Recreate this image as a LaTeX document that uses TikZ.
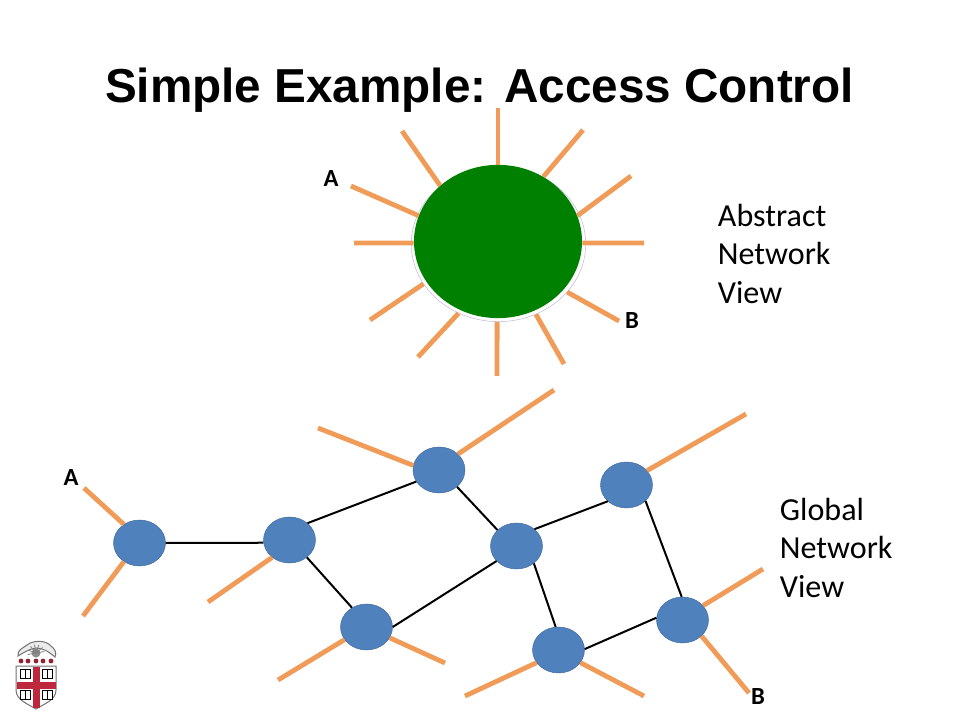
\documentclass[tikz,border=0pt]{standalone}
\usepackage{fontspec}
\setmainfont{Carlito}
\newfontfamily\titlefont{Liberation Sans}
\usetikzlibrary{shapes.geometric}
\definecolor{rayorange}{RGB}{240,156,88}
\definecolor{switchblue}{RGB}{79,129,189}
\definecolor{coregreen}{RGB}{0,128,0}
\definecolor{crestred}{RGB}{190,40,60}
\definecolor{halogray}{RGB}{196,190,214}
\begin{document}
\begin{tikzpicture}[x=0.025cm, y=-0.025cm,
				switch/.style={draw=switchblue!80!black, line width=0.3pt, fill=switchblue, ellipse, minimum width=1.3cm, minimum height=1.15cm, inner sep=0pt},
				ray/.style={draw=rayorange, line width=1.2mm},
				link/.style={draw=black, line width=0.5mm},
				caption/.style={anchor=north west, align=left, font=\fontsize{22.8}{27.4}\selectfont},
				port/.style={font=\fontsize{17.5}{20}\selectfont\bfseries}]
				\useasboundingbox (0, 0) rectangle (960, 720);
				\node[font=\titlefont\fontsize{33.9}{40}\selectfont\bfseries](title) at (479.5, 90) {Simple Example: Access Control};
				
				% abstract view
				\node[ellipse, draw=halogray, line width=0.4pt, fill=white, minimum width=4.36cm, minimum height=3.88cm, inner sep=0pt](halo) at (498.5, 244) {};
				\node[ellipse, fill=coregreen, minimum width=4.2cm, minimum height=3.83cm, inner sep=0pt](core) at (498, 241.5) {};
				\foreach \base/\ang/\x/\y/\n in {core/90/498/108/a, core/55/583/130/b, core/18/631/176/c, core/-1/644/243/d, halo/-35/619/321/e, halo/-62/564/364/f, halo/-91/497/376/g, halo/-120/418/357/h, halo/-152/370/320/i, core/181/354/243/j, core/162/351/186/k, core/136/402/131/l}{
					\coordinate (end\n) at (\x, \y);
					\draw[ray] (\base.\ang) -- (end\n);
				}
				\node[port](portA) at (331, 179) {A};
				\node[port](portB) at (632, 321) {B};
				\node[caption](abstract) at (713, 199) {Abstract\\Network\\View};
				
				% global view
				\coordinate (tipa) at (84, 488);
				\coordinate (tipb) at (83, 616);
				\coordinate (tipc) at (208, 602);
				\coordinate (tipd) at (318, 428);
				\coordinate (tipe) at (554, 390);
				\coordinate (tipf) at (746, 414);
				\coordinate (tipg) at (763, 569);
				\coordinate (tiph) at (749, 693);
				\coordinate (tipi) at (278, 680);
				\coordinate (tipj) at (445, 663);
				\coordinate (tipk) at (465, 696);
				\coordinate (tipl) at (644, 696);
				
				\node[switch](node1) at (139.5, 543) {};
				\node[switch](node2) at (289.5, 540) {};
				\node[switch](node3) at (366.5, 627) {};
				\node[switch](node4) at (439, 470) {};
				\node[switch](node5) at (516.5, 546) {};
				\node[switch](node6) at (626.5, 485) {};
				\node[switch](node7) at (558.5, 650) {};
				\node[switch](node8) at (682.5, 620) {};
				
				\foreach \from/\to in {node1.0/node2.186, node2.43/node4.-153, node2.-45/node3.127, node3.0/node5.-143, node4.-43/node5.140, node5.43/node6.-139, node5.-45/node7.97, node6.-40/node8.92, node7.2/node8.175}
					\draw[link] (\from) -- (\to);
				
				\foreach \from/\to in {node1.130/tipa, node1.-130/tipb, node2.-135/tipc, node4.170/tipd, node4.40/tipe, node6.35/tipf, node8.35/tipg, node8.-40/tiph, node3.-150/tipi, node3.-25/tipj, node7.-150/tipk, node7.-30/tipl}
					\draw[ray] (\from) -- (\to);
				
				\node[port](nodeA) at (71, 478) {A};
				\node[port](nodeB) at (758, 697) {B};
				\node[caption](global) at (775, 493) {Global\\Network\\View};
				
				% crest
				\draw[black!55, line width=0.25mm, fill=black!8] (18, 656) .. controls (17, 650) and (23, 648) .. (27, 645) .. controls (33, 640) and (46, 640) .. (51, 646) .. controls (55, 649) and (57, 653) .. (55, 657) .. controls (50, 653) and (46, 649) .. (36, 648) .. controls (29, 649) and (23, 653) .. (18, 656) -- cycle;
				\fill[black!45] (36, 653) circle (4.5);
				\foreach \a in {170, 200, ..., 370}
					\draw[black!50, line width=0.2mm] (36, 653) -- ++(\a:8.5);
				\foreach \x in {21, 28, 36, 43, 51}
					\fill[crestred!80!black] (\x, 661) circle (2.4);
				\draw[black!55, line width=0.25mm, fill=white] (16, 666) -- (56, 666) -- (56, 690) .. controls (56, 700) and (44, 704) .. (36, 709) .. controls (28, 704) and (16, 700) .. (16, 690) -- cycle;
				\fill[crestred] (32.5, 666.5) rectangle (39.5, 708);
				\fill[crestred] (16.5, 682) rectangle (55.5, 689);
				\foreach \x/\y in {25/673.5, 47/673.5, 25/695, 47/695}
					\draw[black, line width=0.25mm, fill=white] (\x-5, \y-4.5) rectangle (\x+5, \y+4.5) (\x, \y-4.5) -- (\x, \y+4.5);
			\end{tikzpicture}
\end{document}
